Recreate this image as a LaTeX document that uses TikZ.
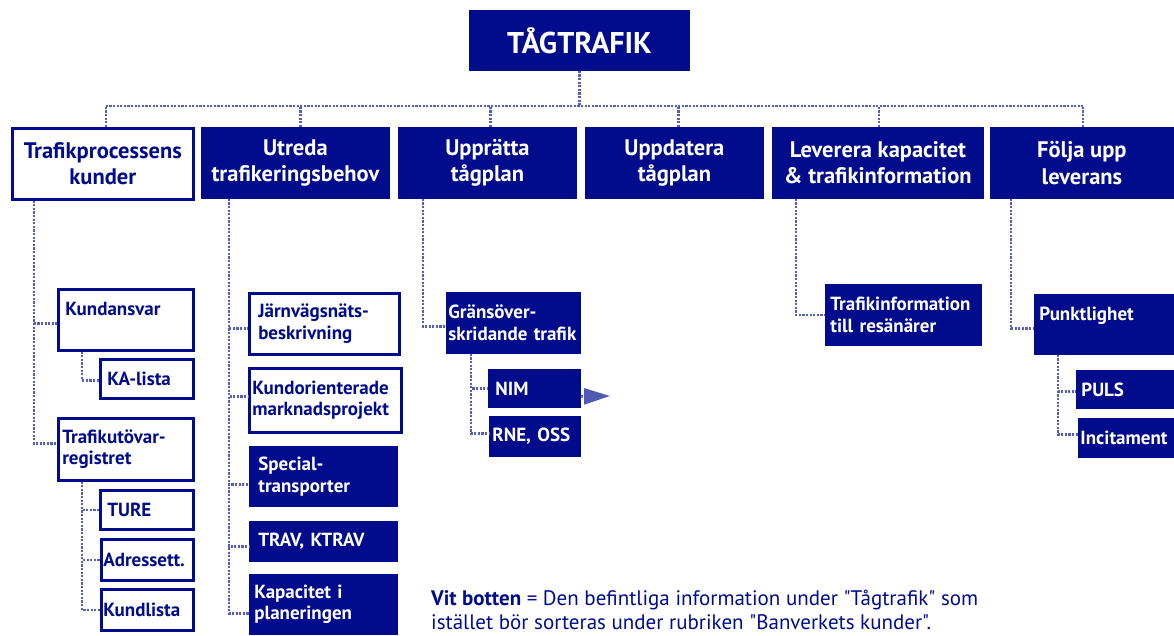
\documentclass[tikz,border=0pt]{standalone}
\usepackage{fontspec}
\setmainfont{PT Sans}[Ligatures=TeXOff]
\usetikzlibrary{arrows.meta}
\definecolor{navy}{RGB}{0,12,140}
\definecolor{dotc}{RGB}{85,95,185}
\definecolor{arrc}{RGB}{80,90,180}
\begin{document}
\begin{tikzpicture}[x=1pt,y=-1pt,
  fbx/.style={fill=navy, draw=navy, line width=0.8pt, text=white, anchor=north west},
  wbx/.style={fill=white, draw=navy, line width=2.6pt, text=navy, anchor=north west},
  lone/.style={font=\fontsize{22.5}{26.5}\selectfont\bfseries, align=center, inner sep=0pt},
  ltwo/.style={font=\fontsize{19}{21.5}\selectfont\bfseries, align=left, inner xsep=7pt, inner ysep=0pt},
  dotl/.style={draw=dotc, line width=2.4pt, dash pattern=on 2.2pt off 1.4pt}]
\useasboundingbox (0,0) rectangle (1174,636);

% title
\node[fbx, minimum width=220pt, minimum height=60pt, font=\fontsize{30}{34}\selectfont\bfseries, inner sep=0pt] (top) at (469,10) {TÅGTRAFIK};

% level 1
\node[wbx, lone, minimum width=181pt, minimum height=71pt] (l1a) at (11,127) {Trafikprocessens\\kunder};
\node[fbx, lone, minimum width=188pt, minimum height=71pt] (l1b) at (201,127) {Utreda\\trafikeringsbehov};
\node[fbx, lone, minimum width=178pt, minimum height=71pt] (l1c) at (398,127) {Upprätta\\tågplan};
\node[fbx, lone, minimum width=178pt, minimum height=71pt] (l1d) at (585,127) {Uppdatera\\tågplan};
\node[fbx, lone, minimum width=211pt, minimum height=71pt] (l1e) at (772,127) {Leverera kapacitet\\\& trafikinformation};
\node[fbx, lone, minimum width=183pt, minimum height=71pt] (l1f) at (990,127) {Följa upp\\leverans};

% column 1
\node[wbx, ltwo, minimum width=135pt, minimum height=61pt, text width=121pt] (kundansvar) at (57,288) {Kundansvar\\\mbox{}};
\node[wbx, ltwo, minimum width=93pt, minimum height=39pt, text width=79pt] (kalista) at (99,358) {KA-lista};
\node[wbx, ltwo, minimum width=135pt, minimum height=62pt, text width=127pt, inner xsep=4pt] (trafikutovar) at (57,417) {Trafikutövar-\\registret};
\node[wbx, ltwo, minimum width=93pt, minimum height=39pt, text width=79pt] (ture) at (99,489) {TURE};
\node[wbx, ltwo, minimum width=92pt, minimum height=41pt, text width=88pt, inner xsep=2pt] (adressett) at (100,538) {Adressett.};
\node[wbx, ltwo, minimum width=92pt, minimum height=41pt, text width=88pt, inner xsep=2pt] (kundlista) at (100,588) {Kundlista};

% column 2
\node[wbx, ltwo, minimum width=150pt, minimum height=61pt, text width=132pt, inner xsep=9pt] (jarnvag) at (248,292) {Järnvägsnäts-\\beskrivning};
\node[wbx, ltwo, minimum width=152pt, minimum height=64pt, text width=146pt, inner xsep=3pt] (kundor) at (248,367) {Kundorienterade\\marknadsprojekt};
\node[fbx, ltwo, minimum width=148pt, minimum height=60pt, text width=130pt, inner xsep=9pt] (special) at (249,446) {Special-\\transporter};
\node[fbx, ltwo, minimum width=148pt, minimum height=40pt, text width=130pt, inner xsep=9pt] (trav) at (249,521) {TRAV, KTRAV};
\node[fbx, ltwo, minimum width=148pt, minimum height=60pt, text width=138pt, inner xsep=5pt] (kapacitet) at (249,574) {Kapacitet i\\planeringen};

% column 3
\node[fbx, ltwo, minimum width=134pt, minimum height=61pt, text width=130pt, inner xsep=2pt] (gransover) at (446,292) {Gränsöver-\\\mbox{skridande trafik}};
\node[fbx, ltwo, minimum width=92pt, minimum height=38pt, text width=78pt] (nim) at (488,369) {NIM};
\node[fbx, ltwo, minimum width=91pt, minimum height=40pt, text width=85pt, inner xsep=3pt] (rne) at (489,416) {RNE, OSS};
\coordinate (arrowend) at (610,396);

% column 5
\node[fbx, ltwo, minimum width=156pt, minimum height=61pt, text width=146pt, inner xsep=5pt] (trafikinfo) at (825,284) {Trafikinformation\\till resänärer};

% column 6
\node[fbx, ltwo, minimum width=140pt, minimum height=60pt, text width=130pt, inner xsep=5pt] (punkt) at (1034,294) {Punktlighet\\\mbox{}};
\node[fbx, ltwo, minimum width=98pt, minimum height=38pt, text width=88pt, inner xsep=5pt] (puls) at (1076,370) {PULS};
\node[fbx, ltwo, minimum width=96pt, minimum height=39pt, text width=92pt, inner xsep=2pt] (incit) at (1078,418) {Incitament};

% note
\node[anchor=north west, align=left, text=navy, inner sep=0pt, font=\fontsize{21}{24}\selectfont] (note) at (431,590)
  {\textbf{Vit botten} = Den befintliga information under "Tågtrafik" som\\istället bör sorteras under rubriken "Banverkets kunder".};

% connectors: top bus
\coordinate (bus) at (580,106);
\draw[dotl] (top.south) -- (top.south |- bus);
\draw[dotl] ([xshift=3pt]l1a.north |- bus) -- ([xshift=1pt]l1f.north |- bus);
\foreach \n/\s in {l1a/3,l1b/5,l1c/3,l1d/4,l1e/1,l1f/1}
  \draw[dotl] ([xshift=\s pt]\n.north) -- ([xshift=\s pt]\n.north |- bus);

% column 1
\draw[dotl] ([xshift=23pt]l1a.south west) |- ([yshift=-3.5pt]kundansvar.west);
\draw[dotl] ([xshift=23pt]l1a.south west) |- ([yshift=6pt]trafikutovar.west);
\draw[dotl] ([xshift=25pt]kundansvar.south west) |- ([yshift=-1.5pt]kalista.west);
\draw[dotl] ([xshift=25pt]trafikutovar.south west) |- (ture.west);
\draw[dotl] ([xshift=25pt]trafikutovar.south west) |- (adressett.west);
\draw[dotl] ([xshift=25pt]trafikutovar.south west) |- (kundlista.west);

% column 2
\draw[dotl] ([xshift=28pt]l1b.south west) |- ([yshift=-4.5pt]jarnvag.west);
\draw[dotl] ([xshift=28pt]l1b.south west) |- ([yshift=4pt]kundor.west);
\draw[dotl] ([xshift=28pt]l1b.south west) |- ([yshift=-8pt]special.west);
\draw[dotl] ([xshift=28pt]l1b.south west) |- ([yshift=-5pt]trav.west);
\draw[dotl] ([xshift=28pt]l1b.south west) |- ([yshift=-9pt]kapacitet.west);

% column 3
\draw[dotl] ([xshift=25pt]l1c.south west) |- ([yshift=-3.5pt]gransover.west);
\draw[dotl] ([xshift=25pt]gransover.south west) |- (nim.west);
\draw[dotl] ([xshift=25pt]gransover.south west) |- ([yshift=3pt]rne.west);
\draw[dotl, draw=arrc, -{Triangle[length=26pt,width=16pt,fill=arrc]}] ([yshift=-8pt]nim.east) -- (arrowend);

% column 5
\draw[dotl] ([xshift=24pt]l1e.south west) |- (trafikinfo.west);

% column 6
\draw[dotl] ([xshift=21pt]l1f.south west) |- ([yshift=-4pt]punkt.west);
\draw[dotl] ([xshift=24pt]punkt.south west) |- ([yshift=-2pt]puls.west);
\draw[dotl] ([xshift=24pt]punkt.south west) |- ([yshift=3.5pt]incit.west);
\end{tikzpicture}
\end{document}
